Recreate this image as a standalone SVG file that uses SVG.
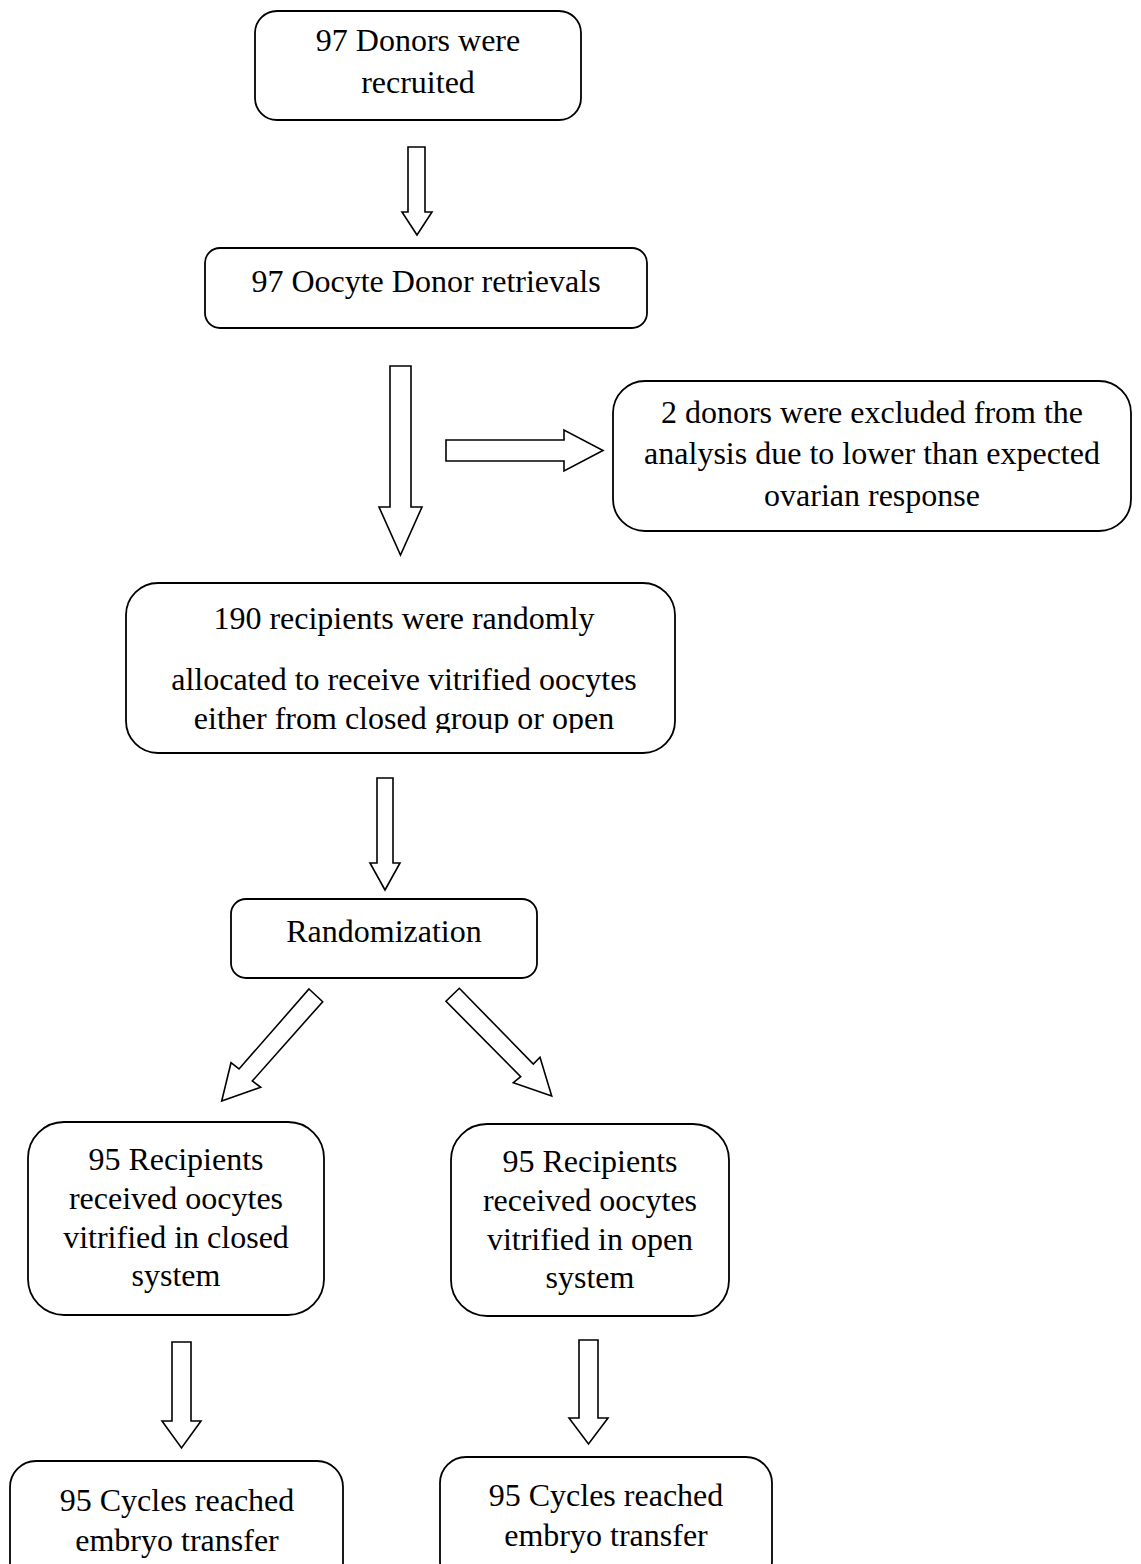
<svg xmlns="http://www.w3.org/2000/svg" width="1141" height="1564" viewBox="0 0 1141 1564">
<defs>
<style>
.box{fill:#fff;stroke:#000;stroke-width:1.8}
.arr{fill:#fff;stroke:#000;stroke-width:1.6;stroke-linejoin:miter}
text{font-family:"Liberation Serif","Times New Roman",serif;font-size:32px;fill:#000;text-anchor:middle}
</style>
<clipPath id="clip4"><rect x="126" y="583" width="549" height="150"/></clipPath>
</defs>
<rect width="1141" height="1564" fill="#fff"/>
<g id="connectors">
<polygon class="arr" points="408,147 425,147 425,212 432,212 417,235 402,212 408,212"/>
<polygon class="arr" points="390,366 411,366 411,507 422,507 400.5,555 379,507 390,507"/>
<polygon class="arr" points="446,440 564,440 564,430 603,450.5 564,471 564,461 446,461"/>
<polygon class="arr" points="377,778 393,778 393,863 400,863 385,890 370,863 377,863"/>
<polygon class="arr" points="309,989 322.7,1001.7 252.3,1081 260.7,1087.3 221.7,1101 231,1062.7 239,1069"/>
<polygon class="arr" points="459.3,988.3 533.3,1064 540,1057.3 551.7,1096 513.3,1082.7 520.7,1076.7 446,1001.3"/>
<polygon class="arr" points="172,1342 191,1342 191,1421 201,1421 181.5,1448 162,1421 172,1421"/>
<polygon class="arr" points="579,1340 598,1340 598,1418 608,1418 588.5,1444 569,1418 579,1418"/>
</g>
<g id="n1">
<rect class="box" x="255" y="11" width="326" height="109" rx="22"/>
<text x="418" y="51">97 Donors were</text>
<text x="418" y="93">recruited</text>
</g>
<g id="n2">
<rect class="box" x="205" y="248" width="442" height="80" rx="15"/>
<text x="426" y="292">97 Oocyte Donor retrievals</text>
</g>
<g id="n3">
<rect class="box" x="613" y="381" width="518" height="150" rx="32"/>
<text x="872" y="423">2 donors were excluded from the</text>
<text x="872" y="464">analysis due to lower than expected</text>
<text x="872" y="506">ovarian response</text>
</g>
<g id="n4">
<rect class="box" x="126" y="583" width="549" height="170" rx="32"/>
<g clip-path="url(#clip4)">
<text x="404" y="629">190 recipients were randomly</text>
<text x="404" y="690">allocated to receive vitrified oocytes</text>
<text x="404" y="729">either from closed group or open</text>
</g>
</g>
<g id="n5">
<rect class="box" x="231" y="899" width="306" height="79" rx="15"/>
<text x="384" y="942">Randomization</text>
</g>
<g id="n6">
<rect class="box" x="28" y="1122" width="296" height="193" rx="36"/>
<text x="176" y="1170">95 Recipients</text>
<text x="176" y="1209">received oocytes</text>
<text x="176" y="1248">vitrified in closed</text>
<text x="176" y="1286">system</text>
</g>
<g id="n7">
<rect class="box" x="451" y="1124" width="278" height="192" rx="36"/>
<text x="590" y="1172">95 Recipients</text>
<text x="590" y="1211">received oocytes</text>
<text x="590" y="1250">vitrified in open</text>
<text x="590" y="1288">system</text>
</g>
<g id="n8">
<rect class="box" x="10" y="1461" width="333" height="130" rx="26"/>
<text x="177" y="1511">95 Cycles reached</text>
<text x="177" y="1551">embryo transfer</text>
</g>
<g id="n9">
<rect class="box" x="440" y="1457" width="332" height="130" rx="26"/>
<text x="606" y="1506">95 Cycles reached</text>
<text x="606" y="1546">embryo transfer</text>
</g>
</svg>
